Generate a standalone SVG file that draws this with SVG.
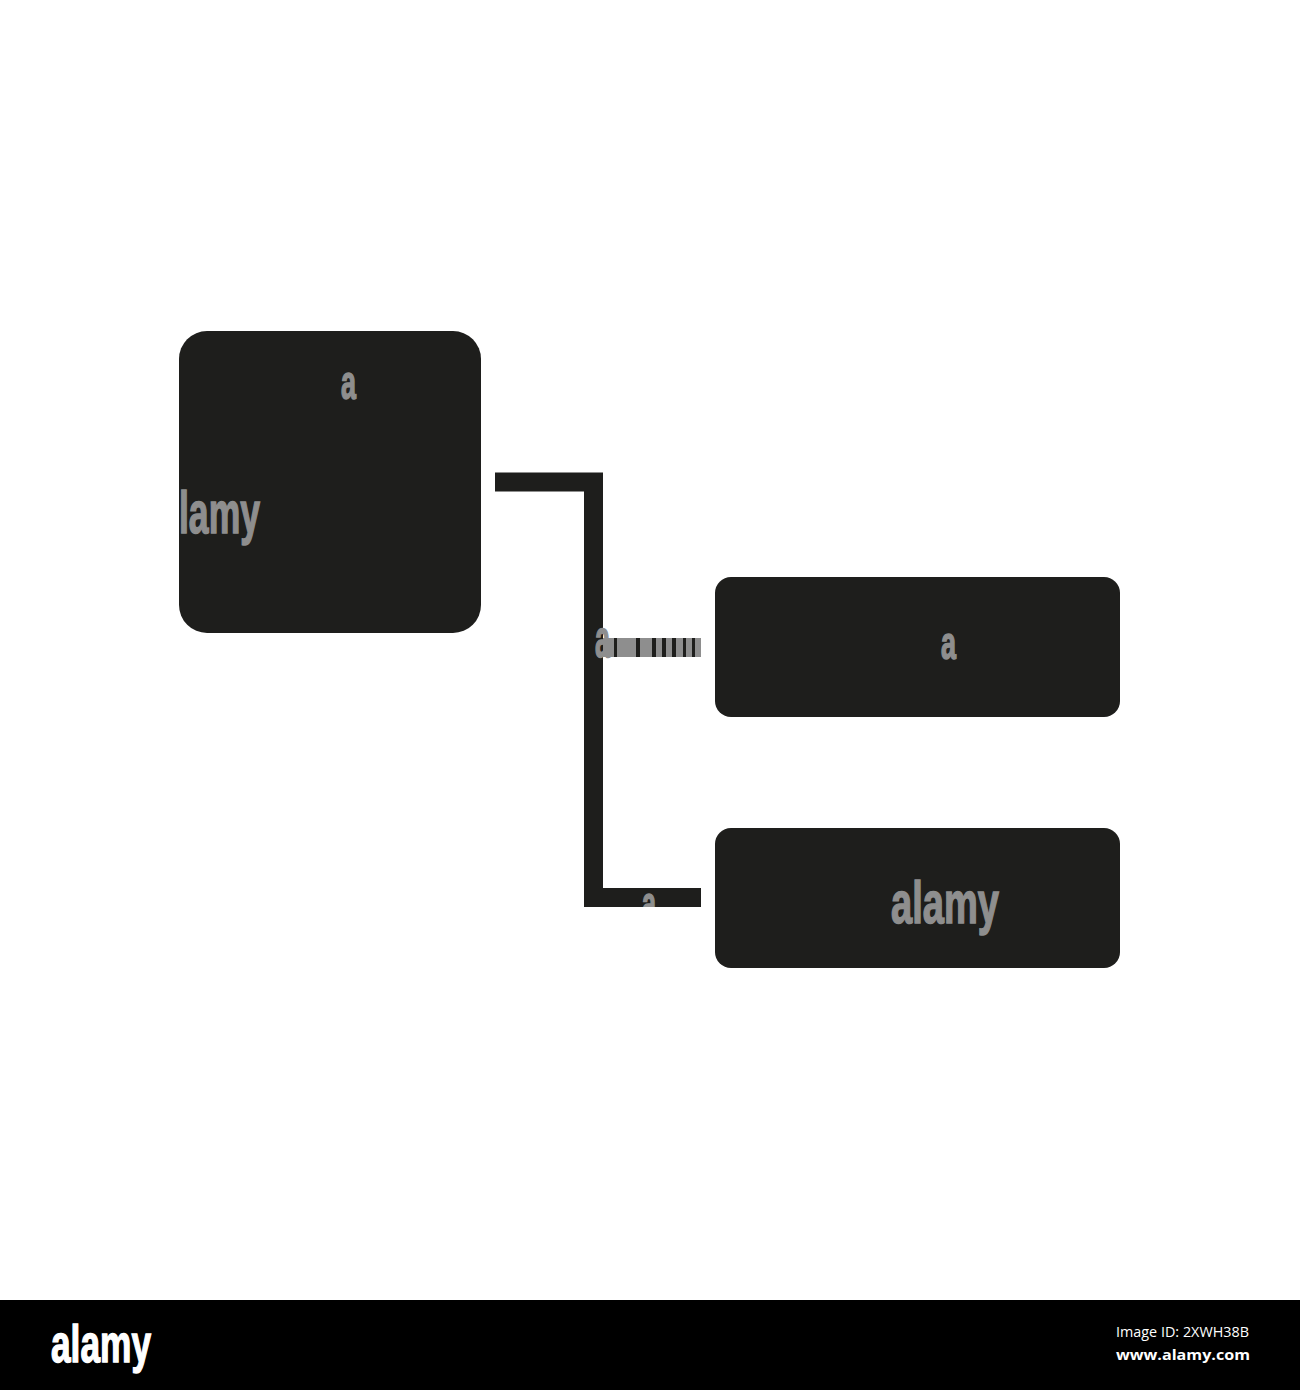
<svg xmlns="http://www.w3.org/2000/svg" width="1300" height="1390" viewBox="0 0 1300 1390">
  <style>
    .node { fill: #1e1e1c; }
    .conn { fill: none; stroke: #1e1e1c; stroke-width: 19; stroke-linecap: butt; stroke-linejoin: miter; }
    .wm { fill: #8e8e8e; stroke: #8e8e8e; stroke-width: 1.6; font-family: "Liberation Sans", Arial, sans-serif; font-weight: bold; }
    .logo { fill: #ffffff; stroke: #ffffff; stroke-width: 1.4; font-family: "Liberation Sans", Arial, sans-serif; font-weight: bold; }
    .meta { fill: #ffffff; font-family: "Open Sans", "Noto Sans", "DejaVu Sans", sans-serif; }
  </style>
  <defs>
    <clipPath id="clipBig"><rect x="179" y="331" width="302" height="302" rx="28"/></clipPath>
    <clipPath id="clipBar"><rect x="603" y="888" width="98" height="19"/></clipPath>
  </defs>
  <rect width="1300" height="1390" fill="#ffffff"/>

  <g id="connectors">
    <path class="conn" d="M495,482 H593.5 V897.5 H701"/>
    <path class="conn" d="M593.5,647.5 H701"/>
  </g>

  <g id="node-root">
    <rect class="node" x="179" y="331" width="302" height="302" rx="28"/>
  </g>
  <g id="node-child-1">
    <rect class="node" x="715" y="577" width="405" height="140" rx="16"/>
  </g>
  <g id="node-child-2">
    <rect class="node" x="715" y="828" width="405" height="140" rx="16"/>
  </g>

  <g id="watermark">
    <text class="wm" x="341" y="399" font-size="49" textLength="15" lengthAdjust="spacingAndGlyphs">a</text>
    <text class="wm" x="179" y="533" font-size="59" textLength="81" lengthAdjust="spacingAndGlyphs" clip-path="url(#clipBig)">lamy</text>
    <text class="wm" x="941" y="659" font-size="46" textLength="15" lengthAdjust="spacingAndGlyphs">a</text>
    <text class="wm" x="891" y="923" font-size="60" textLength="108" lengthAdjust="spacingAndGlyphs">alamy</text>
    <text class="wm" x="642" y="920" font-size="49" textLength="14" lengthAdjust="spacingAndGlyphs" clip-path="url(#clipBar)">a</text>
    <rect x="603" y="638" width="98" height="19" fill="#8e8e8e"/>
    <g fill="#1e1e1c">
      <rect x="614" y="638" width="3" height="19"/>
      <rect x="636" y="638" width="4" height="19"/>
      <rect x="652" y="638" width="4" height="19"/>
      <rect x="662" y="638" width="4" height="19"/>
      <rect x="672" y="638" width="4" height="19"/>
      <rect x="683" y="638" width="3" height="19"/>
      <rect x="692" y="638" width="3" height="19"/>
    </g>
    <text class="wm" x="595" y="657" font-size="51" textLength="15" lengthAdjust="spacingAndGlyphs">a</text>
  </g>

  <g id="footer">
    <rect x="0" y="1300" width="1300" height="90" fill="#000000"/>
    <text class="logo" x="51" y="1362" font-size="51" textLength="100" lengthAdjust="spacingAndGlyphs">alamy</text>
    <text class="meta" x="1116" y="1337" font-size="15" textLength="133" lengthAdjust="spacingAndGlyphs">Image ID: 2XWH38B</text>
    <text class="meta" x="1116" y="1360" font-size="15" font-weight="bold" textLength="134" lengthAdjust="spacingAndGlyphs">www.alamy.com</text>
  </g>
</svg>
